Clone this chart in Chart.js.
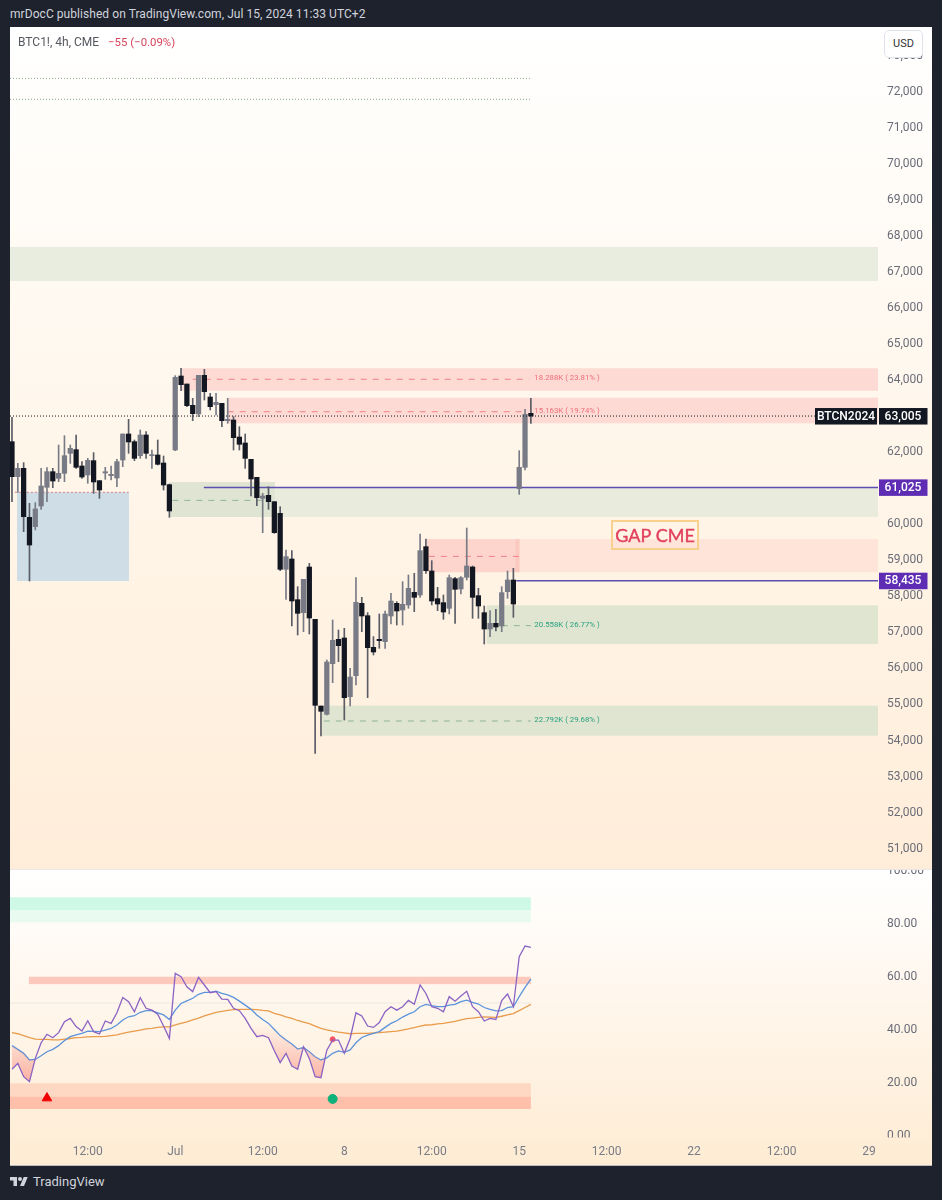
<!DOCTYPE html>
<html>
<head>
<meta charset="utf-8">
<title>BTC1! 4h</title>
<script src="https://cdn.jsdelivr.net/npm/chart.js@4"></script>
<style>
  html, body { margin: 0; padding: 0; background: #1e222d; }
  body { position: relative; width: 942px; height: 1200px; overflow: hidden; font-family: Roboto, sans-serif; }
  canvas { position: absolute; left: 10px; display: block; }
  #priceChart { top: 27px; }
  #rsiChart { top: 870px; }
  #gap { position: absolute; left: 10px; top: 869px; width: 922px; height: 1px; background: #e8e8e8; }
  #edge { position: absolute; left: 10px; top: 1165px; width: 922px; height: 1px; background: #b9bbc0; }
  #head { position: absolute; left: 10px; top: 7px; font-size: 12px; color: #d1d4dc; white-space: nowrap; letter-spacing: 0.06px; }
  #symbol { position: absolute; left: 18px; top: 35px; font-size: 12px; color: #55585f; white-space: nowrap; }
  #symbol span { color: #d8435c; margin-left: 6px; font-size: 11.4px; }
  #usd { position: absolute; left: 884px; top: 30px; width: 37px; height: 26px; line-height: 26px; text-align: center;
         font-size: 11px; color: #333; background: #fff; border: 1px solid #e0e3eb; border-radius: 5px; }
  #logo { position: absolute; left: 10px; top: 1175px; }
  #brand { position: absolute; left: 33px; top: 1174px; font-size: 13px; color: #d1d4dc; }
</style>
</head>
<body>
<div id="head">mrDocC published on TradingView.com, Jul 15, 2024 11:33 UTC+2</div>
<canvas id="priceChart" width="922" height="842"></canvas>
<div id="gap"></div>
<canvas id="rsiChart" width="922" height="295"></canvas>
<div id="edge"></div>
<div id="symbol">BTC1!, 4h, CME <span>−55 (−0.09%)</span></div>
<div id="usd">USD</div>
<svg id="logo" width="18" height="14" viewBox="0 0 36 28"><path fill="#d1d4dc" d="M14 22H7V11H0V4h14v18zM28 22h-8l7.5-18h8L28 22z"/><circle fill="#d1d4dc" cx="20" cy="8" r="4"/></svg>
<div id="brand">TradingView</div>
<script>
// candles, one per 4h bar
const opens = [62294,61322,61554,60194,59935,60509,61027,61461,61276,61415,61970,62072,61619,61369,61767,61212,61424,61350,61285,61785,
  62507,62294,61905,62479,61905,61924,61702,61101,62062,64116,63894,63302,63062,64135,63533,63320,63358,62877,62895,62423,
  62257,61804,61304,60721,60805,60629,60305,58751,59038,57909,57549,58816,57364,54958,54727,56133,56809,56846,55217,55800,
  57808,57465,56586,56809,56744,57456,57808,57622,57761,58113,58039,59380,58705,57937,57826,57669,58492,58205,58529,58816,
  58020,57549,57095,57253,57179,58131,58455,60990,61582,63080];
const highs = [62969,61692,61711,60583,60601,61554,61572,61554,62201,62460,62201,62479,61739,61831,61989,61212,61582,61619,61804,62507,
  62914,62340,62618,62571,62062,62340,61896,61119,64125,64329,63894,63496,64135,64301,63635,63635,63358,63496,62988,62710,
  62507,61804,61304,60860,61045,60629,60490,59288,59269,58270,58474,58918,57364,54958,56235,57345,57067,57114,56004,58520,
  57974,57549,56883,57512,57595,58085,57854,58409,58594,58640,59731,59593,58992,58252,58039,58594,58529,58548,59898,58844,
  58224,57734,57604,57641,58270,58705,58779,62044,63191,63496];
const lows = [60629,60888,59796,58427,59843,60416,60629,61017,61184,61184,61692,61554,61276,61138,60860,60721,61249,61230,61045,61600,
  61970,61767,61831,61831,61554,61646,60952,60194,62044,63709,63265,62877,62988,63450,63173,63034,62710,62803,62062,62062,
  61554,60786,60518,59769,60416,59750,58714,57919,57179,56929,57021,56957,53645,54126,54709,55606,56189,54570,54958,55541,
  57021,55190,56374,56559,56559,57234,57206,57206,57669,57576,57974,58640,57761,57604,57364,57512,57252,58067,58455,57391,
  57391,56679,56883,57040,57021,57946,57419,60832,61508,62803];
const closes = [61322,61554,60212,59426,60425,61064,61461,61202,61415,61905,62109,61582,61313,61776,61175,60952,61461,61387,61739,62507,
  62285,61831,62479,61970,61933,61665,61091,60370,64079,63875,63293,63071,64135,63681,63265,63385,62877,62914,62405,62220,
  61831,61258,60740,60786,60629,59769,58751,59103,57872,57530,58474,57400,54977,54811,56180,56781,56633,55190,55763,57835,
  57456,56577,56457,56772,57512,57872,57595,57780,58224,57974,59269,58714,57872,57789,57567,58520,58196,58520,58844,57974,
  57734,57095,57253,57151,58104,58455,57789,61582,63052,63005];

// RSI pane
const rsiValues = [25.2,27.4,22.4,20.5,29.3,35.2,38.4,37.1,39.0,43.1,44.4,41.3,39.6,43.5,39.4,38.5,43.4,42.5,46.5,52.3,
  50.7,46.9,52.2,48.2,47.5,46.0,41.5,36.8,61.4,60.1,56.3,54.5,59.9,57.0,54.1,54.5,51.7,51.6,48.2,47.3,
  44.4,40.6,37.5,38.0,37.1,32.2,27.7,31.2,26.4,25.2,33.7,29.3,22.4,22.0,32.4,36.2,36.2,31.2,36.8,46.5,
  45.3,41.5,41.0,42.8,46.9,48.8,47.5,48.8,51.2,49.7,57.0,53.8,48.8,48.2,46.9,52.6,50.9,52.8,54.6,48.8,
  46.9,43.4,44.4,44.0,51.1,53.6,48.8,67.7,71.7,71.2];
const rsiAverage = [34.1,32.7,31.2,28.7,28.9,30.3,31.8,32.7,34.1,36,37.5,38.2,38.7,39.6,39.5,39.4,40,40.6,41.9,43.8,
  45,45.4,46.7,47.3,47.3,46.5,45.7,44,47.5,50,51,52,53.5,54.2,54.2,54.7,53.8,53.3,52.3,50.9,
  49.4,47.8,45.7,44,42.5,40.2,37.9,36.2,34.7,32.8,33.4,31.8,29.9,28.7,29.5,31.2,32.1,31.6,32.5,35.2,
  37.2,38.1,38.7,39.4,41,42.5,43.5,44.9,46,46.9,48.8,49.7,49.2,48.8,48.8,49.4,49.7,50.7,51.3,50.4,
  49.8,48.5,47.8,47.2,47.3,48.5,48.8,52.6,56.1,59.2];
const rsiSlow = [39.0,38.6,37.9,37.1,36.6,36.5,36.5,36.3,36.3,36.6,36.8,37.1,37.2,37.4,37.5,37.5,37.6,37.9,38.2,38.7,
  39.2,39.6,40.0,40.4,40.6,41.0,41.2,41.2,41.9,42.5,43.1,43.8,44.5,45.3,46.0,46.7,47.0,47.4,47.7,47.8,
  47.8,47.8,47.7,47.4,47.2,46.3,45.7,45.0,44.4,43.6,43.0,42.4,41.5,40.6,40.1,39.6,39.2,38.9,38.6,38.7,
  38.7,38.7,38.9,39.0,39.2,39.4,39.6,40.0,40.4,40.9,41.5,41.9,42.0,42.3,42.5,42.9,43.3,43.8,44.3,44.5,
  44.8,45.0,44.9,44.8,45.2,45.7,46.2,47.3,48.5,49.7];

// axes
const priceTicks = [73000,72000,71000,70000,69000,68000,67000,66000,65000,64000,63000,62000,61000,60000,59000,58000,57000,56000,55000,54000,53000,52000,51000];
const rsiTicks = [100,80,60,40,20,0];
const timeTickBars = [13,28,43,57,72,87,102,117,132,147];
const timeTickLabels = ['12:00','Jul','12:00','8','12:00','15','12:00','22','12:00','29'];

// zones as [first bar, last bar, upper, lower]
const priceZones = [
  [-0.34,148.54,67696,66753],
  [29.2,148.54,64330,63708],
  [37,148.54,63514,62804],
  [0.86,20.07,60889,58428],
  [27.1,45.1,61175,60204],
  [45.1,148.54,61025,60204],
  [71.2,86.3,59590,58670],
  [86.3,87.1,59590,58670],
  [87.1,148.54,59590,58670],
  [81.4,148.54,57753,56680],
  [53.2,148.54,54967,54135]
];
const rsiZones = [
  [-0.34,89,90.1,85.3],
  [-0.34,89,85.3,80.6],
  [2.9,89,60.1,57.3],
  [-0.34,89,19.9,14.9],
  [-0.34,89,14.9,10.2]
];
// level lines as [first bar, last bar, price]
const redLevels = [[31,88.7,64025],[37,88,63125],[71.5,87,59110]];
const greenLevels = [[27.5,43,60665],[84,89,57188],[53.5,89,54542]];
const dottedLevels = [[-0.34,89,72375],[-0.34,89,71795]];
const purpleLevels = [[32.9,148.54,61025],[86.5,148.54,58435]];
const blueBoxTop = [0.5,20,60889];
const lastPriceLevel = [-0.34,137.7,63005];
const distanceLabels = [['18.288K ( 23.81% )',89.6,64025],['15.163K ( 19.74% )',89.6,63125],['20.558K ( 26.77% )',89.6,57188],['22.792K ( 29.68% )',89.6,54542]];
const priceTags = [63005,61025,58435];

const barNumbers = closes.map((c, i) => i);

Chart.defaults.font.family = 'Roboto, sans-serif';
Chart.defaults.font.size = 12;
Chart.defaults.color = '#6a6d78';
Chart.defaults.animation = false;

const priceZoneColors = ['#e9ede0','#fddad3','#fddad3','#cfdde6','#dfe5d2','#e9ecdd','#fdd5cc','#fbc9bf','#fee4d9','#e0e5d1','#e0e5d1'];
const rsiZoneColors = ['#cdf9e6','#e9fbf1','#fdc9bd','#ffd8c4','#ffbfaa'];

const drawZones = (chart, zones, colors) => {
    const {ctx, scales: {x, y}} = chart;
    zones.forEach((z, i) => {
        ctx.fillStyle = colors[i];
        const left = x.getPixelForValue(z[0]);
        const top = y.getPixelForValue(z[2]);
        ctx.fillRect(left, top, x.getPixelForValue(z[1]) - left, y.getPixelForValue(z[3]) - top);
    });
};

const paneBackground = (chart, stops) => {
    const g = chart.ctx.createLinearGradient(0, 0, 0, chart.height);
    stops.forEach(s => g.addColorStop(s[0], s[1]));
    return g;
};

const levelDataset = (level, color, dash, width, order) => ({
    type: 'line',
    data: [{x: level[0], y: level[2]}, {x: level[1], y: level[2]}],
    borderColor: color,
    borderDash: dash,
    borderWidth: width,
    pointRadius: 0,
    order: order
});

const hiddenX = {
    type: 'linear',
    offset: false,
    min: -0.34,
    max: 148.54,
    grid: {display: false, drawTicks: false},
    border: {display: false}
};

// axis labels must not shrink the plot area
const fitY = s => { s.width = 54; s.paddingTop = 0; s.paddingBottom = 0; };
const fitX = s => { s.height = 26; s.paddingLeft = 0; s.paddingRight = 0; };

const pricePlugin = {
    id: 'pricePane',
    beforeDraw(chart) {
        const {ctx, width, height} = chart;
        ctx.fillStyle = paneBackground(chart, [[0,'#ffffff'],[0.12,'#fffdfa'],[0.5,'#fff6ea'],[1,'#ffedd9']]);
        ctx.fillRect(0, 0, width, height);
    },
    beforeDatasetsDraw(chart) {
        drawZones(chart, priceZones, priceZoneColors);
    },
    afterDraw(chart) {
        const {ctx, scales: {x, y}, chartArea} = chart;
        ctx.save();
        // distance labels on the zones
        ctx.font = '7.8px Roboto, sans-serif';
        ctx.textAlign = 'left';
        ctx.textBaseline = 'middle';
        distanceLabels.forEach((d, i) => {
            ctx.fillStyle = i < 2 ? '#ee6e7b' : '#26a17f';
            ctx.fillText(d[0], x.getPixelForValue(d[1]), y.getPixelForValue(d[2]) - 1);
        });
        // GAP CME note
        const gx = x.getPixelForValue(110.3), gy = y.getPixelForValue(59704);
        ctx.strokeStyle = '#f8d08c';
        ctx.lineWidth = 2;
        ctx.strokeRect(gx - 43, gy - 14, 86, 28);
        ctx.fillStyle = '#e2415c';
        ctx.strokeStyle = '#e2415c';
        ctx.lineWidth = 0.4;
        ctx.font = '18px Lato, sans-serif';
        ctx.textAlign = 'center';
        ctx.fillText('GAP CME', gx, gy + 1);
        ctx.strokeText('GAP CME', gx, gy + 1);
        // axis tags
        const tagColors = ['#131722','#5e2db3','#5e2db3'];
        ctx.font = '500 12px Roboto, sans-serif';
        priceTags.forEach((p, i) => {
            const py = y.getPixelForValue(p);
            ctx.fillStyle = tagColors[i];
            ctx.fillRect(chartArea.right + 1, py - 8, 48.5, 16.5);
            ctx.fillStyle = '#ffffff';
            ctx.fillText(p.toLocaleString('en-US'), chartArea.right + 25, py + 0.5);
        });
        const lastY = y.getPixelForValue(priceTags[0]);
        ctx.fillStyle = '#131722';
        ctx.fillRect(chartArea.right - 63, lastY - 8, 62, 16.5);
        ctx.fillStyle = '#ffffff';
        ctx.fillText('BTCN2024', chartArea.right - 32, lastY + 0.5);
        ctx.restore();
    }
};

const priceChart = new Chart(document.getElementById('priceChart'), {
    type: 'bar',
    data: {
        datasets: [
            ...redLevels.map(l => levelDataset(l, '#f0808a', [6, 6], 1, 5)),
            ...greenLevels.map(l => levelDataset(l, '#8fb39a', [6, 6], 1, 5)),
            ...dottedLevels.map(l => levelDataset(l, '#8aa88a', [1, 2], 1, 5)),
            levelDataset(blueBoxTop, '#d8808f', [2, 2], 1, 5),
            ...purpleLevels.map(l => levelDataset(l, '#5b4fb0', [], 1.5, 4)),
            levelDataset(lastPriceLevel, '#131722', [1, 2], 1, 0),
            {
                // wicks
                data: barNumbers.map(i => ({x: i, y: [lows[i], highs[i]]})),
                backgroundColor: barNumbers.map(i => closes[i] >= opens[i] ? '#787b86' : '#5a5c66'),
                barThickness: 1,
                grouped: false,
                order: 3
            },
            {
                // bodies
                data: barNumbers.map(i => ({x: i, y: [opens[i], closes[i]]})),
                backgroundColor: barNumbers.map(i => closes[i] >= opens[i] ? '#787b86' : '#131722'),
                barThickness: 4.6,
                grouped: false,
                order: 2
            }
        ]
    },
    options: {
        responsive: false,
        layout: {padding: 0, autoPadding: false},
        plugins: {legend: {display: false}, tooltip: {enabled: false}},
        scales: {
            x: {...hiddenX, display: false},
            y: {
                position: 'right',
                min: 50435,
                max: 73801,
                grid: {display: false, drawTicks: false},
                border: {display: false},
                afterFit: fitY,
                afterBuildTicks: s => { s.ticks = priceTicks.map(v => ({value: v})); },
                ticks: {
                    padding: 9,
                    autoSkip: false,
                    callback: v => v.toLocaleString('en-US')
                }
            }
        }
    },
    plugins: [pricePlugin]
});

const rsiPlugin = {
    id: 'rsiPane',
    beforeDraw(chart) {
        chart.$bg = paneBackground(chart, [[0,'#ffffff'],[0.4,'#fff7ee'],[1,'#feecd3']]);
        chart.ctx.fillStyle = chart.$bg;
        chart.ctx.fillRect(0, 0, chart.width, chart.height);
    },
    beforeDatasetsDraw(chart) {
        const {ctx, chartArea, scales: {x, y}} = chart;
        // the 0.00 label is cut by the pane edge
        ctx.fillStyle = chart.$bg;
        ctx.fillRect(0, chartArea.bottom - 1.5, chart.width, chart.height - chartArea.bottom + 1.5);
        drawZones(chart, rsiZones, rsiZoneColors);
        ctx.strokeStyle = '#ece8e2';
        ctx.lineWidth = 1;
        ctx.beginPath();
        ctx.moveTo(x.getPixelForValue(-0.34), y.getPixelForValue(50.2));
        ctx.lineTo(x.getPixelForValue(89), y.getPixelForValue(50.2));
        ctx.stroke();
    }
};

const lineData = values => values.map((v, i) => ({x: i, y: v}));

const rsiChart = new Chart(document.getElementById('rsiChart'), {
    type: 'line',
    data: {
        datasets: [
            {
                data: lineData(rsiValues),
                borderColor: '#8a63c4',
                borderWidth: 1.3,
                pointRadius: 0,
                fill: {target: 1, above: 'rgba(0,0,0,0)', below: 'rgba(245,120,110,0.25)'}
            },
            {data: lineData(rsiAverage), borderColor: '#5b93dc', borderWidth: 1.3, pointRadius: 0},
            {data: lineData(rsiSlow), borderColor: '#e89c4c', borderWidth: 1.3, pointRadius: 0},
            {data: [{x: 6, y: 14.3}], pointStyle: 'triangle', pointRadius: 5.5, backgroundColor: '#f00000', borderColor: '#f00000', showLine: false},
            {data: [{x: 55, y: 14}], pointStyle: 'circle', pointRadius: 4.5, backgroundColor: '#0db27a', borderColor: '#0db27a', showLine: false},
            {data: [{x: 55, y: 36.5}], pointStyle: 'circle', pointRadius: 2.5, backgroundColor: '#f7525f', borderColor: '#f7525f', showLine: false}
        ]
    },
    options: {
        responsive: false,
        layout: {padding: 0, autoPadding: false},
        plugins: {legend: {display: false}, tooltip: {enabled: false}},
        scales: {
            x: {
                ...hiddenX,
                afterFit: fitX,
                afterBuildTicks: s => { s.ticks = timeTickBars.map(v => ({value: v})); },
                ticks: {
                    z: 1,
                    padding: 6,
                    autoSkip: false,
                    maxRotation: 0,
                    color: '#787b86',
                    callback: v => timeTickLabels[timeTickBars.indexOf(v)]
                }
            },
            y: {
                position: 'right',
                min: -1.13,
                max: 100.4,
                grid: {display: false, drawTicks: false},
                border: {display: false},
                afterFit: fitY,
                afterBuildTicks: s => { s.ticks = rsiTicks.map(v => ({value: v})); },
                ticks: {
                    padding: 9,
                    autoSkip: false,
                    callback: v => v.toFixed(2)
                }
            }
        }
    },
    plugins: [rsiPlugin]
});

// oversold fill fades out towards the average
const fillGrad = rsiChart.ctx.createLinearGradient(0, rsiChart.scales.y.getPixelForValue(42), 0, rsiChart.scales.y.getPixelForValue(20));
fillGrad.addColorStop(0, 'rgba(245,120,110,0)');
fillGrad.addColorStop(1, 'rgba(245,120,110,0.55)');
rsiChart.data.datasets[0].fill.below = fillGrad;
rsiChart.update('none');
</script>
</body>
</html>
